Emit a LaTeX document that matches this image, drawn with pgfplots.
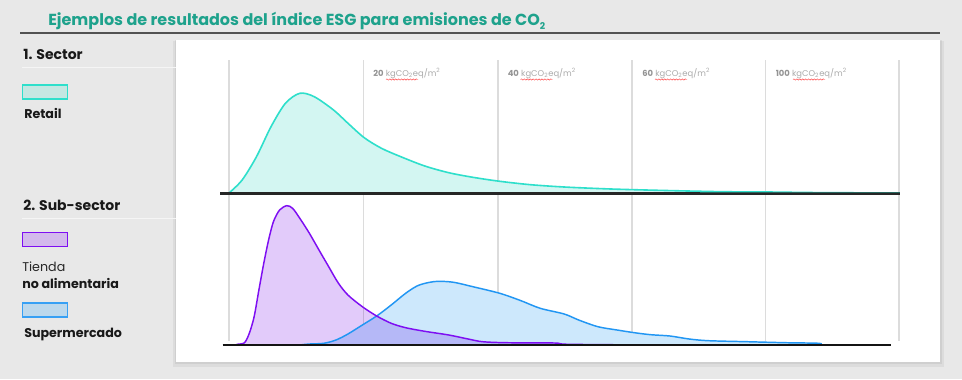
\documentclass[border=0pt]{standalone}
\usepackage{pgfplots}
\pgfplotsset{compat=1.18}
\usepackage{fontspec}
\setmainfont{Poppins}
\usetikzlibrary{decorations.pathmorphing}
\definecolor{bg}{HTML}{E8E8E8}
\definecolor{titleteal}{HTML}{1EA28C}
\definecolor{tealline}{HTML}{2EDFCB}
\definecolor{tealfill}{HTML}{D3F6F2}
\definecolor{purpline}{HTML}{7E0EF2}
\definecolor{purpfill}{HTML}{E2CBFA}
\definecolor{blueline}{HTML}{2196F3}
\definecolor{bluefill}{HTML}{CDE8FC}
\definecolor{gridc}{HTML}{DCDCDC}
\definecolor{lblc}{HTML}{ABABAB}

\pgfplotstableread{
x y
0 0
1.96 13
4.10 36.3
6.27 66.3
8.42 89.7
10.57 99.7
12.72 96.3
15.60 83
17.76 69.7
20.18 55.3
22.76 44.7
25.64 36.3
29.22 27
32.80 20.3
36.40 15.7
40.42 11.7
45.01 8.3
50.03 6
55.78 4.3
60.51 3.3
66.54 2.3
73.72 1.3
80.54 1
88.06 0.4
100 0
}\retail

\pgfplotstableread{
x y
1.0 0
1.24 0.7
2.31 2.3
3.03 11.7
3.75 28.3
4.46 55
5.19 81.7
5.91 105
6.63 123.3
7.55 135
8.63 139.3
9.49 136.7
10.57 126.7
12.00 111.7
13.43 95
14.88 78.3
16.31 62
17.75 50
19.90 38.3
22.04 29
24.21 21.7
26.36 17.3
29.22 13.7
32.81 10
35.69 6
37.84 3.3
41.42 2.3
48.60 2
50.75 0.7
63.58 0
}\tienda

\pgfplotstableread{
x y
10.5 0
12.00 1
14.15 1.7
15.96 5
17.75 11
19.90 20
22.04 29
24.21 40
26.36 51.7
28.15 59.3
29.94 62.7
31.37 63.7
33.54 62.7
36.40 58.3
40.42 51.7
43.58 44.3
46.45 36.7
50.03 31
52.19 25
55.06 18.3
57.92 15
60.51 12.3
62.95 10.3
65.82 9
68.68 6
71.57 4.3
77.30 3.3
83.04 2.3
88.06 1.7
88.2 0
}\super

\begin{document}
\begin{tikzpicture}
\begin{scope}[x=0.75pt,y=-0.75pt]
\fill[bg] (0,0) rectangle (962,379);
\useasboundingbox (0,0) rectangle (962,379);
% title
\node[anchor=base west, inner sep=0, text=titleteal, font=\fontsize{12}{14}\selectfont\bfseries] at (48,25)
  {Ejemplos de resultados del índice ESG para emisiones de CO\raisebox{-0.45ex}{\fontsize{7}{8}\selectfont 2}};
\draw[line width=1.5pt, color=black!68] (20,33) -- (940,33);
% panel with shadow
\fill[black, opacity=0.05] (173,41) rectangle (944,367);
\fill[black, opacity=0.06] (175,40) rectangle (942,364);
\fill[white] (176,40) rectangle (940,362);
% left legend
\node[anchor=base west, inner sep=0, font=\fontsize{10.5}{12}\selectfont\bfseries, text=black!90] at (23,59) {1. Sector};
\draw[white!96!black, line width=0.75pt] (22,67) -- (176,67);
\draw[fill={rgb,255:red,196;green,231;blue,226}, draw=tealline, line width=1.1pt] (22.5,85) rectangle (67.5,99);
\node[anchor=base west, inner sep=0, font=\fontsize{9.5}{11}\selectfont\bfseries, text=black!90] at (24,118) {Retail};
\node[anchor=base west, inner sep=0, font=\fontsize{10.5}{12}\selectfont\bfseries, text=black!90] at (23,210) {2. Sub-sector};
\draw[white!96!black, line width=0.75pt] (22,218) -- (176,218);
\draw[fill={rgb,255:red,211;green,185;blue,236}, draw=purpline, line width=1.1pt] (22.5,232.5) rectangle (67.5,246.5);
\node[anchor=base west, inner sep=0, font=\fontsize{9.5}{11}\selectfont, text=black!85] at (22,271) {Tienda};
\node[anchor=base west, inner sep=0, font=\fontsize{9.5}{11}\selectfont\bfseries, text=black!90] at (22,288) {no alimentaria};
\draw[fill={rgb,255:red,188;green,216;blue,236}, draw=blueline!90, line width=1.1pt] (22.5,303) rectangle (67.5,317);
\node[anchor=base west, inner sep=0, font=\fontsize{9.5}{11}\selectfont\bfseries, text=black!90] at (24,337) {Supermercado};
% grid lines
\foreach \gx in {229,363.5,498,632,765.5,899} {
  \draw[gridc, line width=0.8pt] (\gx,60) -- (\gx,341);
}
% grid labels
\foreach \gx/\num in {373/20,507.5/40,642/60,775.5/100} {
  \node[anchor=base west, inner sep=0, font=\fontsize{6.3}{7}\selectfont, text=lblc] at (\gx,76)
    {\textbf{\color{black!42}\num}\ kgCO\textsubscript{2}eq/m\textsuperscript{2}};
}
\foreach \gx in {386,520.5,655,793} {
  \draw[red!75, line width=0.35pt, decorate, decoration={snake, amplitude=0.5, segment length=2.2}] (\gx,79.5) -- (\gx+32,79.5);
}
\end{scope}

% top panel: Retail
\begin{axis}[at={(171.75pt,-144.75pt)}, anchor=south west, scale only axis,
  width=502.5pt, height=99.75pt, xmin=0, xmax=100, ymin=0, ymax=133,
  hide axis, clip=false]
\addplot[draw=none, fill=tealfill, smooth, tension=0.5] table[x=x,y=y] {\retail} \closedcycle;
\addplot[tealline, line width=1.2pt, smooth, tension=0.5] table[x=x,y=y] {\retail};
\end{axis}

% bottom panel
\begin{axis}[at={(171.75pt,-258.75pt)}, anchor=south west, scale only axis,
  width=502.5pt, height=108.75pt, xmin=0, xmax=100, ymin=0, ymax=145,
  hide axis, clip=false]
\addplot[draw=none, fill=bluefill, smooth, tension=0.5] table[x=x,y=y] {\super} \closedcycle;
\addplot[draw=none, fill=purpfill, smooth, tension=0.5, blend mode=multiply] table[x=x,y=y] {\tienda} \closedcycle;
\addplot[blueline, line width=1.1pt, smooth, tension=0.5] table[x=x,y=y] {\super};
\addplot[purpline, line width=1.1pt, smooth, tension=0.5] table[x=x,y=y] {\tienda};
\end{axis}

\begin{scope}[x=0.75pt,y=-0.75pt]
\draw[black!85, line width=1.8pt] (220,193.3) -- (900,193.3);
\draw[tealline, opacity=0.35, line width=0.8pt] (700,192.6) -- (900,192.6);
\draw[black!92, line width=2pt] (222.5,345) -- (890.5,345);
\end{scope}
\end{tikzpicture}
\end{document}
